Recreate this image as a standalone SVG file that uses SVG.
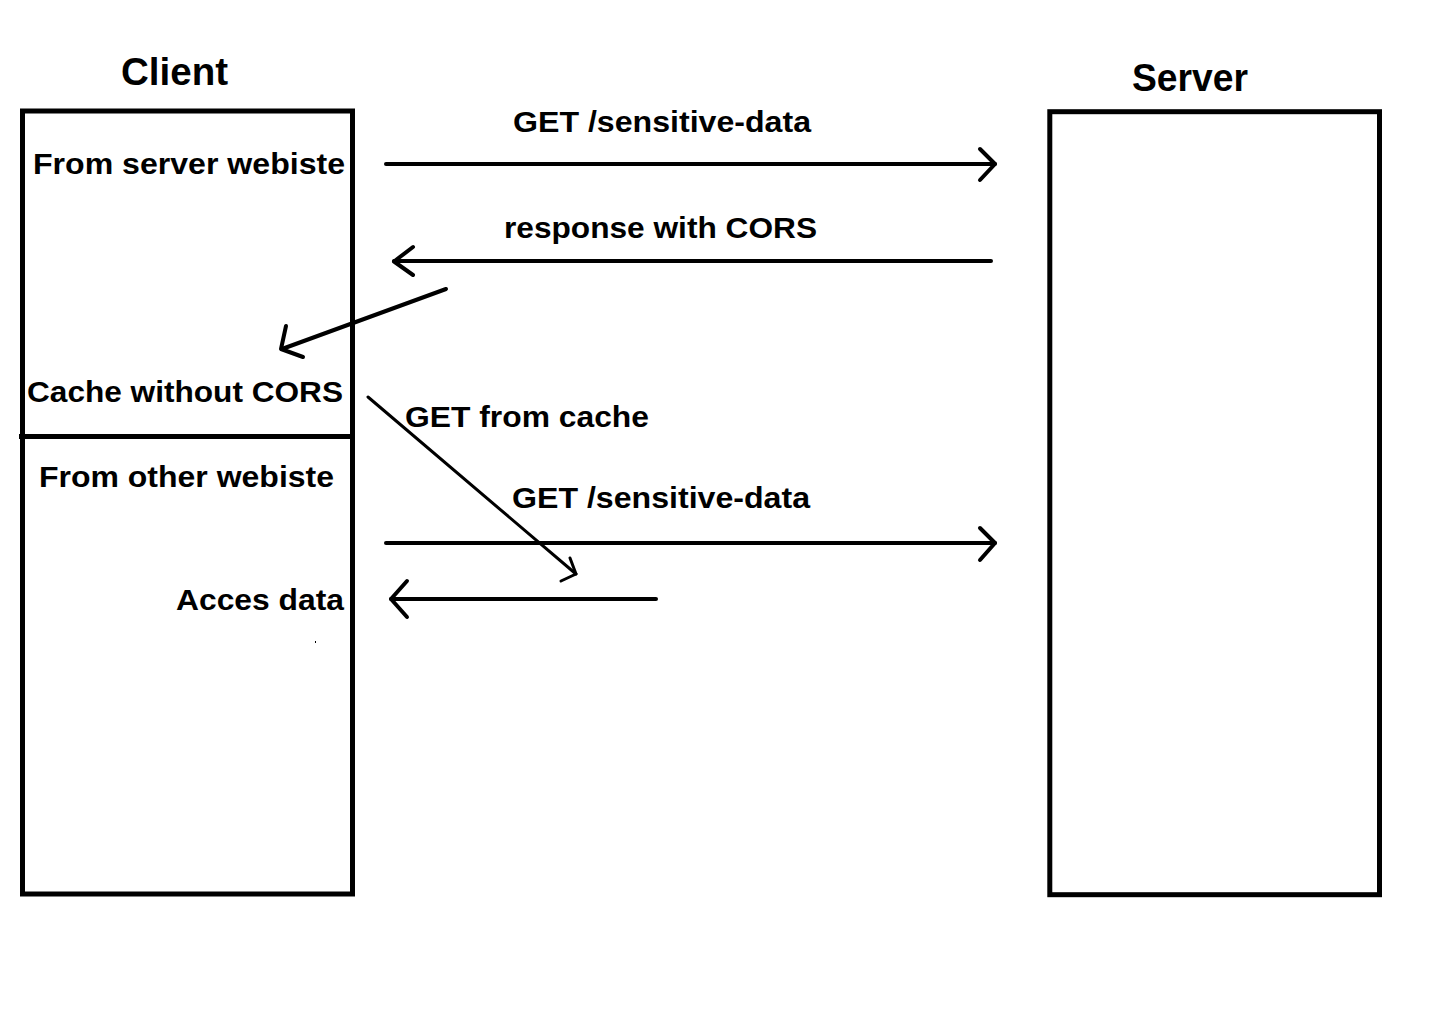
<svg xmlns="http://www.w3.org/2000/svg" width="1435" height="1019" viewBox="0 0 1435 1019">
<style>
text{font-family:"Liberation Sans",Arial,sans-serif;font-weight:bold;fill:#000}
.title{font-size:38px}
.lbl{font-size:29px}
.box{fill:none;stroke:#000;stroke-width:5}
.ln{fill:none;stroke:#000;stroke-width:4;stroke-linecap:round;stroke-linejoin:round}
.thin{stroke-width:3}
</style>
<rect width="1435" height="1019" fill="#fff"/>
<g id="client">
<text class="title" x="121" y="85" textLength="107" lengthAdjust="spacingAndGlyphs">Client</text>
<rect class="box" x="22.5" y="111" width="330" height="783"/>
<line class="box" x1="19" y1="436.5" x2="352.5" y2="436.5"/>
<text class="lbl" x="33" y="173.5" textLength="312" lengthAdjust="spacingAndGlyphs">From server webiste</text>
<text class="lbl" x="27" y="401.5" textLength="316" lengthAdjust="spacingAndGlyphs">Cache without CORS</text>
<text class="lbl" x="39" y="487" textLength="295" lengthAdjust="spacingAndGlyphs">From other webiste</text>
<text class="lbl" x="176" y="609.5" textLength="168" lengthAdjust="spacingAndGlyphs">Acces data</text>
<rect x="315" y="641" width="1" height="2" fill="#000"/>
</g>
<g id="server">
<text class="title" x="1132" y="91" textLength="116" lengthAdjust="spacingAndGlyphs">Server</text>
<rect class="box" x="1049.8" y="111.7" width="329.7" height="783"/>
</g>
<g id="connectors">
<line class="ln" x1="386" y1="164" x2="995" y2="164"/>
<polyline class="ln" points="980,149 995,164 980,180"/>
<text class="lbl" x="513" y="131.7" textLength="298" lengthAdjust="spacingAndGlyphs">GET /sensitive-data</text>
<line class="ln" x1="991" y1="261" x2="394" y2="261"/>
<polyline class="ln" points="413,247 394,261.5 413,275"/>
<text class="lbl" x="504" y="238.3" textLength="313" lengthAdjust="spacingAndGlyphs">response with CORS</text>
<line class="ln" x1="446" y1="289" x2="282" y2="349"/>
<polyline class="ln" points="286,326 281,349 303,357"/>
<line class="ln thin" x1="368" y1="397" x2="576" y2="574"/>
<polyline class="ln thin" points="570,558 576,574 561,581"/>
<text class="lbl" x="405" y="427" textLength="244" lengthAdjust="spacingAndGlyphs">GET from cache</text>
<line class="ln" x1="386" y1="543" x2="995" y2="543"/>
<polyline class="ln" points="980,528 995,543 980,560"/>
<text class="lbl" x="512" y="508.3" textLength="298" lengthAdjust="spacingAndGlyphs">GET /sensitive-data</text>
<line class="ln" x1="656" y1="599" x2="391" y2="599"/>
<polyline class="ln" points="407,581 391,599 407,617"/>
</g>
</svg>
